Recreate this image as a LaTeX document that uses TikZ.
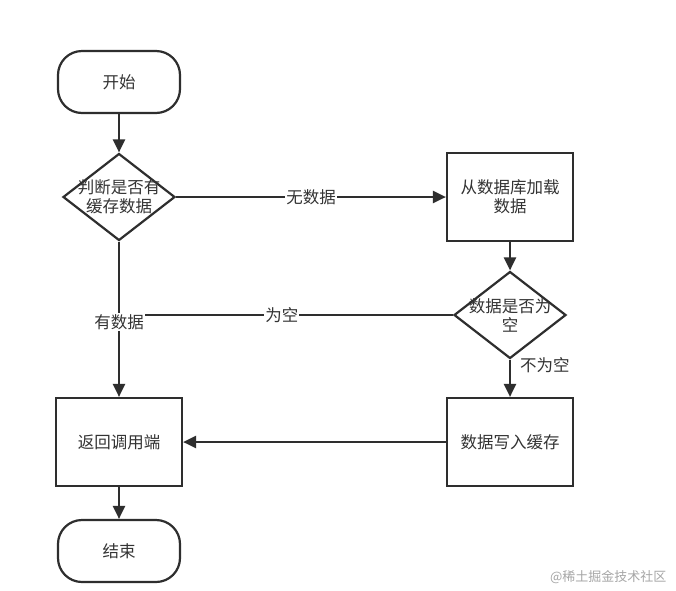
\documentclass[tikz,border=0pt]{standalone}
\usepackage{fontspec}
\setmainfont{Noto Sans CJK SC}
\usetikzlibrary{shapes.geometric,arrows.meta}
\definecolor{ln}{HTML}{2E2E2E}
\definecolor{tx}{HTML}{333333}
\tikzset{
  base/.style={draw=ln, line width=2.2pt, text=tx, font=\fontsize{16.5}{19}\selectfont, align=center, inner sep=0pt},
  term/.style={base, rectangle, rounded corners=24pt, minimum width=122pt, minimum height=62pt},
  proc/.style={base, rectangle, minimum width=126pt, minimum height=88pt},
  dec/.style={base, diamond, aspect=1.29, minimum width=112pt, minimum height=87pt},
  dtext/.style={text=tx, font=\fontsize{16.5}{19}\selectfont, align=center, inner sep=0pt},
  conn/.style={draw=ln, line width=2.2pt, -{Triangle[length=13pt,width=12pt]}},
  plain/.style={draw=ln, line width=2.2pt},
  lbl/.style={fill=white, text=tx, font=\fontsize{16.5}{19}\selectfont, inner sep=1pt}
}
\begin{document}
\begin{tikzpicture}[x=1pt,y=-1pt]
\useasboundingbox[fill=white] (0,0) rectangle (676,590);
\node[term] (start) at (119,82) {开始};
\node[dec] (d1) at (119,197) {};
\node[dtext] (d1t) at (d1.center) {判断是否有\\缓存数据};
\node[proc] (load) at (510,197) {从数据库加载\\数据};
\node[dec] (d2) at (510,315) {};
\node[dtext] (d2t) at (d2.center) {数据是否为\\空};
\node[proc] (write) at (510,442) {数据写入缓存};
\node[proc] (ret) at (119,442) {返回调用端};
\node[term] (end) at (119,551) {结束};
\coordinate (j) at (119,315);

\draw[conn] (start) -- (d1);
\draw[conn] (d1) -- node[lbl] (l1) {无数据} (load);
\draw[conn] (load) -- (d2);
\draw[plain] (d2.west) -- node[lbl, pos=0.5, xshift=-4pt] (l2) {为空} (j);
\draw[conn] (d1) -- (ret);
\node[lbl] (l3) at (119,322) {有数据};
\draw[conn] (d2) -- (write);
\node[lbl, fill=none, anchor=west] (l4) at (519,365) {不为空};
\draw[conn] (write) -- (ret);
\draw[conn] (ret) -- (end);
\node[text=gray!70, font=\fontsize{13}{15}\selectfont, anchor=east] (wm) at (670,577) {@稀土掘金技术社区};
\end{tikzpicture}
\end{document}
